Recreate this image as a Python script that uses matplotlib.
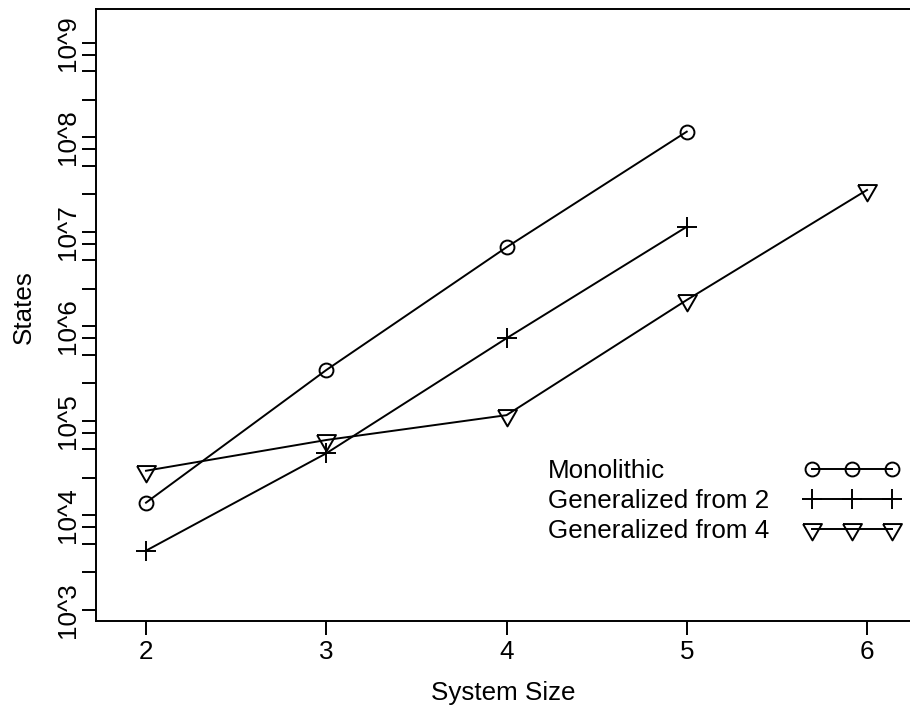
import numpy as np
import matplotlib
matplotlib.use("Agg")
from matplotlib import pyplot as plt
from matplotlib.ticker import FixedLocator, NullFormatter

plt.rcParams['font.family'] = ['Liberation Sans', 'DejaVu Sans']

# state counts per system size
sizes_mono = [2, 3, 4, 5]
states_mono = [13650, 345000, 6.86e6, 1.146e8]

sizes_gen2 = [2, 3, 4, 5]
states_gen2 = [4240, 45400, 748000, 1.13e7]

sizes_gen4 = [2, 3, 4, 5, 6]
states_gen4 = [29700, 62800, 115000, 1.90e6, 2.77e7]

labels = ["Monolithic", "Generalized from 2", "Generalized from 4"]
x_ticks = [2, 3, 4, 5, 6]
y_exps = [3, 4, 5, 6, 7, 8, 9]

W, H = 910, 712
FS = 18.7
LW = 1.4

# downward triangle centred on its centroid
tri_down = [(-1.3468, 0.7776), (1.3468, 0.7776), (0.0, -1.5551), (-1.3468, 0.7776)]
styles = [dict(marker='o', markersize=10.0),
          dict(marker='+', markersize=15.0),
          dict(marker=tri_down, markersize=15.7)]
common = dict(color='black', lw=LW, markerfacecolor='none',
              markeredgecolor='black', markeredgewidth=LW)

fig = plt.figure(figsize=(W / 100, H / 100), dpi=100)
left, right, top, bottom = 96, 917, 9.5, 621
ax = fig.add_axes([left / W, (H - bottom) / H, (right - left) / W, (bottom - top) / H])

series = [(sizes_mono, states_mono), (sizes_gen2, states_gen2), (sizes_gen4, states_gen4)]
for (xs, ys), st in zip(series, styles):
    ax.plot(xs, ys, **common, **st)

ax.set_yscale('log')
ax.set_xlim(2 - 50 / 180.25, 6 + 50 / 180.25)
ax.set_ylim(10 ** (3 - 11 / 94.55), 10 ** (9 + 33.2 / 94.55))

ax.xaxis.set_major_locator(FixedLocator(x_ticks))
ax.set_xticklabels([str(v) for v in x_ticks])
ax.xaxis.set_minor_locator(FixedLocator([]))

ax.yaxis.set_major_locator(FixedLocator([10.0 ** e for e in y_exps]))
ax.set_yticklabels(["10^%d" % e for e in y_exps], rotation=90, va='center')
minor = [m * 10.0 ** e for e in y_exps[:-1] for m in (2.5, 5, 7.5)]
ax.yaxis.set_minor_locator(FixedLocator(minor))
ax.yaxis.set_minor_formatter(NullFormatter())

ax.tick_params(axis='both', which='both', direction='out', length=10, width=LW,
               labelsize=FS, color='black')
ax.tick_params(axis='x', pad=4)
ax.tick_params(axis='y', pad=1.5)
for sp in ax.spines.values():
    sp.set_linewidth(LW)

ax.set_xlabel("System Size", fontsize=FS, va='top')
ax.xaxis.set_label_coords(0.5 - 3.5 / (right - left), (bottom - 681) / (bottom - top))
ax.set_ylabel("States", fontsize=FS)
ax.yaxis.set_label_coords((36 - left) / (right - left), (bottom - 307) / (bottom - top))


# legend: labels on the left, sample line with three markers on the right
def fx(px):
    return (px - left) / (right - left)


def fy(py):
    return (bottom - py) / (bottom - top)


rows = [469, 499, 529]
for lab, st, py in zip(labels, styles, rows):
    ax.text(fx(548), fy(py + 9.5), lab, fontsize=FS, transform=ax.transAxes,
            ha='left', va='baseline')
    ax.plot([fx(812), fx(852), fx(892)], [fy(py)] * 3, transform=ax.transAxes,
            clip_on=False, **common, **st)

fig.savefig("out.png", dpi=100)
